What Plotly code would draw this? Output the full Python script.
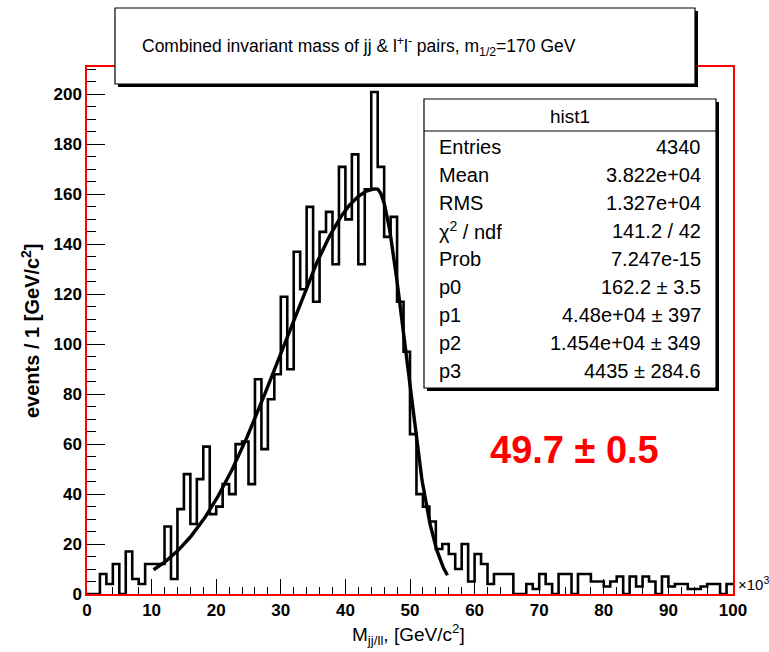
import numpy as np
import plotly.graph_objects as go

# Histogram contents: 100 bins of width 1 (x in units of 10^3)
bin_edges = list(range(0, 101))
counts = [
    0, 0, 8, 4, 12, 0, 17, 6, 4, 12,
    12, 12, 27, 6, 34, 48, 28, 46, 59, 32,
    35, 44, 40, 60, 61, 44, 86, 58, 78, 88,
    119, 90, 137, 122, 155, 117, 145, 153, 132, 171,
    150, 176, 132, 162, 201, 171, 143, 151, 117, 97,
    64, 40, 35, 29, 18, 20, 16, 10, 20, 5,
    16, 12, 4, 8, 8, 8, 0, 0, 4, 2,
    8, 4, 0, 8, 8, 0, 8, 8, 5, 5,
    3, 5, 7, 0, 7, 3, 7, 5, 0, 7,
    3, 4, 4, 2, 2, 3, 4, 4, 0, 4,
]

# Fit parameters (asymmetric Gaussian), GeV
p0, p1, p2, p3 = 162.2, 4.48e4, 1.454e4, 4435.0
fit_range = (10.3, 55.8)

stats_title = "hist1"
stats_labels = ["Entries", "Mean", "RMS", "χ<sup>2</sup> / ndf", "Prob", "p0", "p1", "p2", "p3"]
stats_values = ["4340", "3.822e+04", "1.327e+04", "141.2 / 42", "7.247e-15",
                "162.2 ± 3.5", "4.48e+04 ± 397", "1.454e+04 ± 349", "4435 ± 284.6"]

x_ticks = list(range(0, 101, 10))
y_ticks = list(range(0, 201, 20))

SANS = "Liberation Sans, Arial, Helvetica, sans-serif"

# plot frame in pixels
PL, PR, PT, PB = 87, 733, 67, 594
W, H = 769, 652


def fx(px):
    return (px - PL) / (PR - PL)


def fy(py):
    return (PB - py) / (PB - PT)


fig = go.Figure()

# histogram as a step outline
fig.add_trace(go.Scatter(
    x=bin_edges, y=counts + [counts[-1]],
    mode="lines", line=dict(color="black", width=2.6, shape="hv"),
    hoverinfo="skip",
))

# fitted curve
xf = np.linspace(fit_range[0], fit_range[1], 400)
xg = xf * 1000.0
sig = np.where(xg < p1, p2, p3)
yf = p0 * np.exp(-0.5 * ((xg - p1) / sig) ** 2)
fig.add_trace(go.Scatter(
    x=xf, y=yf, mode="lines",
    line=dict(color="black", width=3.4), hoverinfo="skip",
))

shapes = []
# title pave with shadow
shapes.append(dict(type="rect", xref="paper", yref="paper",
                   x0=fx(118), x1=fx(698), y0=fy(87), y1=fy(11),
                   fillcolor="black", line=dict(width=0), layer="above"))
shapes.append(dict(type="rect", xref="paper", yref="paper",
                   x0=fx(115), x1=fx(695), y0=fy(84), y1=fy(8),
                   fillcolor="white", line=dict(color="black", width=1.2), layer="above"))
# stats box with shadow
shapes.append(dict(type="rect", xref="paper", yref="paper",
                   x0=fx(427), x1=fx(719), y0=fy(391), y1=fy(102),
                   fillcolor="black", line=dict(width=0), layer="above"))
shapes.append(dict(type="rect", xref="paper", yref="paper",
                   x0=fx(424), x1=fx(716), y0=fy(388), y1=fy(99),
                   fillcolor="white", line=dict(color="black", width=1.2), layer="above"))
shapes.append(dict(type="line", xref="paper", yref="paper",
                   x0=fx(424), x1=fx(716), y0=fy(131), y1=fy(131),
                   line=dict(color="black", width=1.2), layer="above"))

annotations = []
annotations.append(dict(
    xref="paper", yref="paper", x=fx(140), y=fy(46), xanchor="left", yanchor="middle",
    text="Combined invariant mass of jj &amp; l<sup>+</sup>l<sup>-</sup> pairs, m<sub>1/2</sub>=170 GeV",
    showarrow=False, font=dict(family=SANS, size=17.5, color="black")))
annotations.append(dict(
    xref="paper", yref="paper", x=fx(570), y=fy(116), xanchor="center", yanchor="middle",
    text=stats_title, showarrow=False, font=dict(family=SANS, size=19, color="black")))
for i, (lab, val) in enumerate(zip(stats_labels, stats_values)):
    ypx = 147 + 28 * i
    annotations.append(dict(
        xref="paper", yref="paper", x=fx(437), y=fy(ypx), xanchor="left", yanchor="middle",
        text=lab, showarrow=False,
        font=dict(family=SANS, size=20, color="black")))
    annotations.append(dict(
        xref="paper", yref="paper", x=fx(703), y=fy(ypx), xanchor="right", yanchor="middle",
        text=val, showarrow=False,
        font=dict(family=SANS, size=20, color="black")))

# fitted mass result
annotations.append(dict(
    xref="paper", yref="paper", x=fx(574), y=fy(450), xanchor="center", yanchor="middle",
    text="49.7 ± 0.5", showarrow=False,
    font=dict(family=SANS, size=38, color="#ff0000", weight="bold")))

# axis titles and exponent
annotations.append(dict(
    xref="paper", yref="paper", x=fx(408), y=fy(634), xanchor="center", yanchor="middle",
    text="M<sub>jj/ll</sub>, [GeV/c<sup>2</sup>]", showarrow=False,
    font=dict(family=SANS, size=19, color="black")))
annotations.append(dict(
    xref="paper", yref="paper", x=fx(30), y=fy(330), xanchor="center", yanchor="middle",
    text="events / 1 [GeV/c<sup>2</sup>]", showarrow=False, textangle=-90,
    font=dict(family=SANS, size=20, color="black", weight="bold")))
annotations.append(dict(
    xref="paper", yref="paper", x=fx(736), y=fy(583), xanchor="left", yanchor="middle",
    text="×10<sup>3</sup>", showarrow=False,
    font=dict(family=SANS, size=15, color="black")))

fig.update_layout(
    width=W, height=H,
    margin=dict(l=PL, r=W - PR, t=PT, b=H - PB),
    paper_bgcolor="white", plot_bgcolor="white",
    showlegend=False,
    shapes=shapes, annotations=annotations,
)
fig.update_xaxes(
    range=[0, 100], tickvals=x_ticks, ticks="inside", ticklen=15, tickwidth=1.4,
    tickcolor="black", showline=True, linecolor="#ff0000", linewidth=1.5, mirror=True,
    showgrid=False, zeroline=False,
    minor=dict(dtick=2, ticks="inside", ticklen=7, tickwidth=1.2, tickcolor="black", showgrid=False),
    tickfont=dict(family=SANS, size=17, color="black", weight="bold"),
)
fig.update_yaxes(
    range=[0, 211], tickvals=y_ticks, ticks="inside", ticklen=18, tickwidth=1.4,
    tickcolor="black", showline=True, linecolor="#ff0000", linewidth=1.5, mirror=True,
    showgrid=False, zeroline=False,
    minor=dict(dtick=5, ticks="inside", ticklen=9, tickwidth=1.2, tickcolor="black", showgrid=False),
    tickfont=dict(family=SANS, size=17, color="black", weight="bold"),
)

fig.write_html("out.html")
